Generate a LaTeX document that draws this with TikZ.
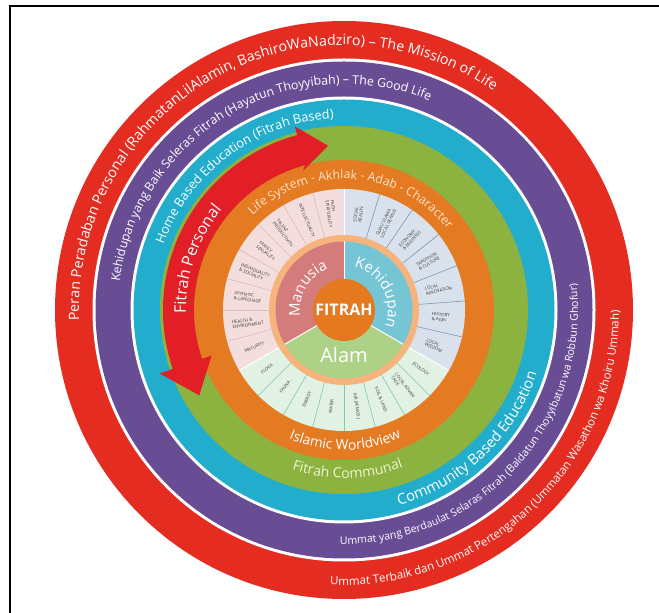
\documentclass[tikz,border=0pt]{standalone}
\usepackage{fontspec}
\setmainfont{Open Sans}
\usetikzlibrary{decorations.text}

\definecolor{ringred}{HTML}{E42D20}
\definecolor{ringpurple}{HTML}{694D94}
\definecolor{ringblue}{HTML}{22ADCC}
\definecolor{ringgreen}{HTML}{8CB23F}
\definecolor{ringorange}{HTML}{E47A22}
\definecolor{arrowred}{HTML}{E21E26}
\definecolor{peach}{HTML}{F6B47C}
\definecolor{manusiafill}{HTML}{D47C7C}
\definecolor{kehidupanfill}{HTML}{76C5D4}
\definecolor{alamfill}{HTML}{AED188}
\definecolor{fitrahfill}{HTML}{E47920}
\definecolor{wedgepink}{HTML}{F3DEDD}
\definecolor{wedgeblue}{HTML}{D9E1EC}
\definecolor{wedgemint}{HTML}{E1F1E4}
\definecolor{linepink}{HTML}{D9BCBC}
\definecolor{lineblue}{HTML}{8096B6}
\definecolor{linemint}{HTML}{7DCCA2}
\definecolor{lifetext}{HTML}{FDE3C6}
\definecolor{communaltext}{HTML}{EEF3CF}
\definecolor{labelgray}{HTML}{3A3A3A}

% text set along an arc: radius, start angle, end angle, format, text
\newcommand{\ringlabel}[5]{%
  \path[decorate,decoration={text along path,text align=center,text={|#4|#5}}]
    (#2:#1) arc[start angle=#2,end angle=#3,radius=#1];}
\newcommand{\fsz}[1]{\fontsize{#1}{#1}\selectfont}

\begin{document}
\begin{tikzpicture}[x=1pt,y=1pt,
  wedgelabel/.style={font=\fontsize{4.4}{5}\selectfont,text=labelgray,align=left,inner sep=0pt},
  divider/.style={line width=0.6pt},
  sectorline/.style={white,line width=1pt}]
\useasboundingbox (0,0) rectangle (659,613);
\fill[white] (0,0) rectangle (659,613);
\draw[line width=2pt] (10,0) -- (10,607) -- (659,607);

\begin{scope}[shift={(344,303)}]
  % concentric rings
  \fill[ringred] (0,0) circle[radius=289pt];
  \fill[white] (0,0) circle[radius=251.5pt];
  \fill[ringpurple] (0,0) circle[radius=248.5pt];
  \fill[white] (0,0) circle[radius=213.5pt];
  \fill[ringblue] (0,0) circle[radius=210.5pt];
  \fill[ringgreen] (0,0) circle[radius=184pt];
  \fill[ringorange] (0,0) circle[radius=150pt];

  % wedge ring
  \fill[wedgepink] (0,0) -- (90:121pt) arc[start angle=90,end angle=210,radius=121pt] -- cycle;
  \fill[wedgeblue] (0,0) -- (-30:121pt) arc[start angle=-30,end angle=90,radius=121pt] -- cycle;
  \fill[wedgemint] (0,0) -- (210:121pt) arc[start angle=210,end angle=330,radius=121pt] -- cycle;
  \foreach \k in {1,...,7}{
    \draw[divider,linepink] (90+15*\k:75pt) -- (90+15*\k:121pt);
    \draw[divider,linemint] (210+15*\k:75pt) -- (210+15*\k:121pt);
  }
  \foreach \k in {1,...,6}{
    \draw[divider,lineblue] (90-120/7*\k:75pt) -- (90-120/7*\k:121pt);
  }
  \foreach \a in {90,210,330}{
    \draw[sectorline] (\a:70pt) -- (\a:121pt);
  }

  % inner sectors
  \fill[peach] (0,0) circle[radius=75pt];
  \fill[manusiafill] (0,0) -- (90:68.5pt) arc[start angle=90,end angle=210,radius=68.5pt] -- cycle;
  \fill[kehidupanfill] (0,0) -- (-30:68.5pt) arc[start angle=-30,end angle=90,radius=68.5pt] -- cycle;
  \fill[alamfill] (0,0) -- (210:68.5pt) arc[start angle=210,end angle=330,radius=68.5pt] -- cycle;
  \foreach \a in {90,210,330}{
    \draw[sectorline] (0,0) -- (\a:68.5pt);
  }
  \fill[fitrahfill] (0,0) circle[radius=31pt];

  % wedge labels
  \foreach \lab [count=\i] in {{FAITH\\SPIRITUALITY},{INTELLECTUALITY},{TALENT\\PRODUCTIVITY},
      {FAMILY\\SEXUALITY},{INDIVIDUALITY\\\& SOCIALITY},{ASTHETIC\\\& LANGUAGE},
      {HEALTH \&\\ENVIRONMENT},{MATURITY}}{
    \pgfmathsetmacro\ang{82.5+15*\i}
    \pgfmathsetmacro\rot{\ang-180}
    \node[wedgelabel,rotate=\rot] (m\i) at (\ang:97pt) {\lab};
  }
  \foreach \lab [count=\i] in {{SOCIAL\\REALITY},{GURU ULAMA\\LOCAL GENIUS},{ECONOMY\\\& BUSINESS},
      {TRADITION\\\& CULTURE},{LOCAL\\INNOVATION},{HISTORY\\\& AGEs},{LOCAL\\WISDOM}}{
    \pgfmathsetmacro\ang{90-120/7*(\i-0.5)}
    \node[wedgelabel,rotate=\ang] (k\i) at (\ang:97pt) {\lab};
  }
  \foreach \lab [count=\i] in {{FLORA},{FAUNA},{ENERGY},{WATER},{AIR (ATMOS.)},{SOIL \& LAND},
      {LOCAL ADVAN\\TAGE},{ECOLOGY}}{
    \pgfmathsetmacro\ang{202.5+15*\i}
    \pgfmathsetmacro\rot{\ang<270 ? \ang-180 : \ang-360}
    \node[wedgelabel,rotate=\rot] (a\i) at (\ang:97pt) {\lab};
  }

  % centre labels
  \node[text=white,font=\fsz{16}\bfseries] (fitrah) at (0,0) {FITRAH};
  \node[text=white,font=\fsz{20}] (alam) at (0,-45) {Alam};
  \ringlabel{44pt}{200}{100}{\fsz{15}\color{white}}{Manusia}
  \ringlabel{44pt}{85}{-30}{\fsz{15}\color{white}}{Kehidupan}

  % Fitrah Personal arrow
  \fill[arrowred] (199:181pt) arc[start angle=199,end angle=105,radius=181pt]
    -- (105:190pt) -- (95.5:165pt) -- (106.5:145pt) -- (105:150pt)
    arc[start angle=105,end angle=199,radius=150pt]
    -- (199:140pt) -- (210.5:168pt) -- (199:195pt) -- cycle;

  % ring texts
  \ringlabel{265pt}{205}{33}{\fsz{14.2}\color{white}}{Peran Peradaban Personal (RahmatanLilAlamin, BashiroWaNadziro) – The Mission of Life}
  \ringlabel{275pt}{240}{387}{\fsz{11.5}\color{white}}{Ummat Terbaik dan Ummat Pertengahan (Ummatan Wasathon wa Khoiru Ummah)}
  \ringlabel{226pt}{190}{50.6}{\fsz{12.3}\color{white}}{Kehidupan yang Baik Seleras Fitrah (Hayatun Thoyyibah) – The Good Life}
  \ringlabel{234pt}{250}{385.5}{\fsz{10.6}\color{white}}{Ummat yang Berdaulat Selaras Fitrah (Baldatun Thoyyibatun wa Robbun Ghofur)}
  \ringlabel{192pt}{180}{73}{\fsz{12.8}\color{white}}{Home Based Education (Fitrah Based)}
  \ringlabel{203pt}{250}{377.5}{\fsz{14.8}\color{white}}{Community Based Education}
  \ringlabel{168pt}{220}{322.6}{\fsz{14}\color{communaltext}}{Fitrah Communal}
  \ringlabel{131pt}{160}{12}{\fsz{12.3}\color{lifetext}}{Life System - Akhlak - Adab - Character}
  \ringlabel{140pt}{210}{331}{\fsz{13.8}\color{white}}{Islamic Worldview}
  \ringlabel{158pt}{200}{122}{\fsz{16}\color{white}}{Fitrah Personal}
\end{scope}
\end{tikzpicture}
\end{document}
